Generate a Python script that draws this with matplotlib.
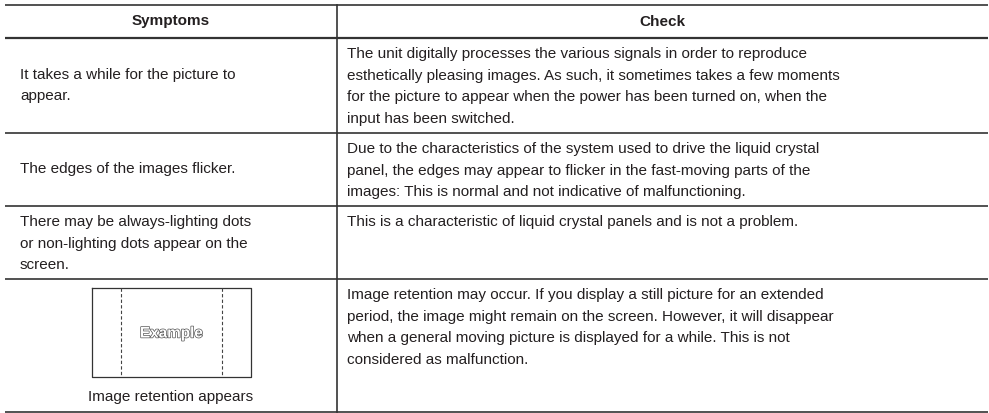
import matplotlib.pyplot as plt
import matplotlib.patheffects as pe

# Table content
headers = ['Symptoms', 'Check']
symptoms = [
    'It takes a while for the picture to\nappear.',
    'The edges of the images flicker.',
    'There may be always-lighting dots\nor non-lighting dots appear on the\nscreen.',
    'Image retention appears',
]
checks = [
    'The unit digitally processes the various signals in order to reproduce\n'
    'esthetically pleasing images. As such, it sometimes takes a few moments\n'
    'for the picture to appear when the power has been turned on, when the\n'
    'input has been switched.',
    'Due to the characteristics of the system used to drive the liquid crystal\n'
    'panel, the edges may appear to flicker in the fast-moving parts of the\n'
    'images: This is normal and not indicative of malfunctioning.',
    'This is a characteristic of liquid crystal panels and is not a problem.',
    'Image retention may occur. If you display a still picture for an extended\n'
    'period, the image might remain on the screen. However, it will disappear\n'
    'when a general moving picture is displayed for a while. This is not\n'
    'considered as malfunction.',
]
example_word = 'Example'

# Layout in pixels
W, H = 989, 413
x_left, x_div, x_right = 5, 337, 988
row_edges = [5, 38, 133, 206, 279, 412]
fs = 11
step = 21.7      # line pitch in px
first = 16       # first line centre below row top
line_col = '#333333'
txt_col = '#231f20'

plt.rcParams['font.family'] = ['Liberation Sans', 'DejaVu Sans']

fig = plt.figure(figsize=(W / 100, H / 100), dpi=100)
ax = fig.add_axes([0, 0, 1, 1])
ax.set_xlim(0, W)
ax.set_ylim(H, 0)
ax.axis('off')


def put_lines(x, y0, s, **kw):
    # draw a multi-line string one line at a time with a fixed pitch
    for i, line in enumerate(s.split('\n')):
        ax.text(x, y0 + i * step, line, va='center', fontsize=fs, color=txt_col, **kw)


# horizontal rules
for i, y in enumerate(row_edges):
    lw = 1.6 if i == 1 else 1.2
    ax.plot([x_left, x_right], [y, y], color=line_col, lw=lw, solid_capstyle='butt')
# column divider
ax.plot([x_div, x_div], [row_edges[0], row_edges[-1]], color=line_col, lw=1.2)

# header
hy = (row_edges[0] + row_edges[1]) / 2
ax.text((x_left + x_div) / 2, hy, headers[0], ha='center', va='center',
        fontsize=fs, fontweight='bold', color=txt_col)
ax.text((x_div + x_right) / 2, hy, headers[1], ha='center', va='center',
        fontsize=fs, fontweight='bold', color=txt_col)

# body rows
left_valign = ['center', 'center', 'top', None]
for r in range(4):
    top, bot = row_edges[r + 1], row_edges[r + 2]
    put_lines(347, top + first, checks[r], ha='left')
    n = symptoms[r].count('\n') + 1
    if left_valign[r] == 'center':
        put_lines(20, (top + bot) / 2 - (n - 1) * step / 2, symptoms[r], ha='left')
    elif left_valign[r] == 'top':
        put_lines(20, top + first, symptoms[r], ha='left')

# last row: example screen drawing and caption
bx0, bx1, by0, by1 = 92, 251, 288, 377
ax.plot([bx0, bx1, bx1, bx0, bx0], [by0, by0, by1, by1, by0], color='#333333', lw=0.9)
for xd in (121, 222):
    ax.plot([xd, xd], [by0, by1], color='#444444', lw=0.8, ls=(0, (3, 2)))
ax.text((bx0 + bx1) / 2, (by0 + by1) / 2 + 1, example_word, ha='center', va='center',
        fontsize=11, color='white', fontweight='bold',
        path_effects=[pe.Stroke(linewidth=1.0, foreground='#555555'), pe.Normal()])
ax.text((x_left + x_div) / 2, 397, symptoms[3], ha='center', va='center',
        fontsize=fs, color=txt_col)

fig.savefig('out.png', dpi=100)
